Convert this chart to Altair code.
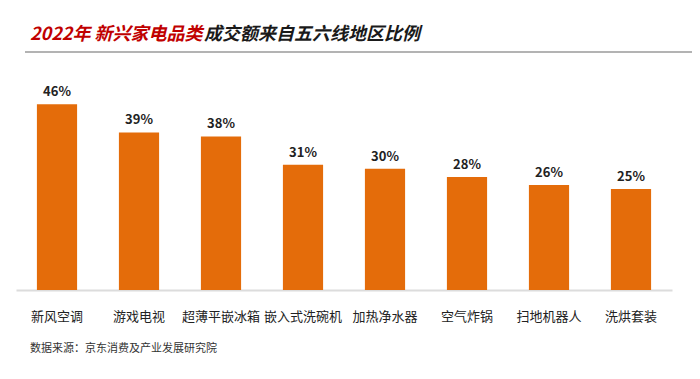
import altair as alt
import pandas as pd

categories = ["新风空调", "游戏电视", "超薄平嵌冰箱", "嵌入式洗碗机", "加热净水器", "空气炸锅", "扫地机器人", "洗烘套装"]
values = [46, 39, 38, 31, 30, 28, 26, 25]
title_red = "2022年 新兴家电品类"
title_black = "成交额来自五六线地区比例"
source = "数据来源：京东消费及产业发展研究院"

FONT = "Noto Sans CJK SC"
df = pd.DataFrame({"cat": categories, "val": values, "lab": [f"{v}%" for v in values]})

x = alt.X("cat:N", sort=categories, title=None,
          scale=alt.Scale(paddingInner=0.51, paddingOuter=0.255),
          axis=alt.Axis(labelAngle=0, labelFont=FONT, labelFontSize=13, labelColor="#222",
                        labelPadding=20, ticks=False, domainColor="#dcdcdc", domainWidth=2))
y = alt.Y("val:Q", scale=alt.Scale(domain=[0, 50]), axis=None, title=None)

bars = alt.Chart(df).mark_bar(color="#E46C0A").encode(x=x, y=y)
labels = alt.Chart(df).mark_text(font=FONT, fontSize=13, fontWeight="bold", color="#222",
                                 baseline="bottom", dy=-5).encode(x=x, y=y, text="lab:N")

one = pd.DataFrame({"k": [0]})
t1 = alt.Chart(one).mark_text(font=FONT, fontSize=18, fontWeight="bold", fontStyle="italic",
                              color="#C00000", align="left", baseline="middle").encode(
    x=alt.value(14), y=alt.value(-53), text=alt.value(title_red))
t2 = alt.Chart(one).mark_text(font=FONT, fontSize=18, fontWeight="bold", fontStyle="italic",
                              color="#1a1a1a", align="left", baseline="middle").encode(
    x=alt.value(188), y=alt.value(-53), text=alt.value(title_black))
rule = alt.Chart(one).mark_rule(color="#9a9a9a", strokeWidth=1.5).encode(
    x=alt.value(9), x2=alt.value(690), y=alt.value(-36))
src = alt.Chart(one).mark_text(font=FONT, fontSize=11, color="#333", align="left",
                               baseline="middle").encode(
    x=alt.value(14), y=alt.value(261), text=alt.value(source))

chart = alt.layer(bars, labels, t1, t2, rule, src).properties(
    width=656, height=202,
    autosize=alt.AutoSizeParams(type="none"),
    padding={"left": 8, "top": 80, "right": 20, "bottom": 79},
).configure_view(stroke=None)

chart.save("out.html", embed_options={"renderer": "svg", "actions": False})
